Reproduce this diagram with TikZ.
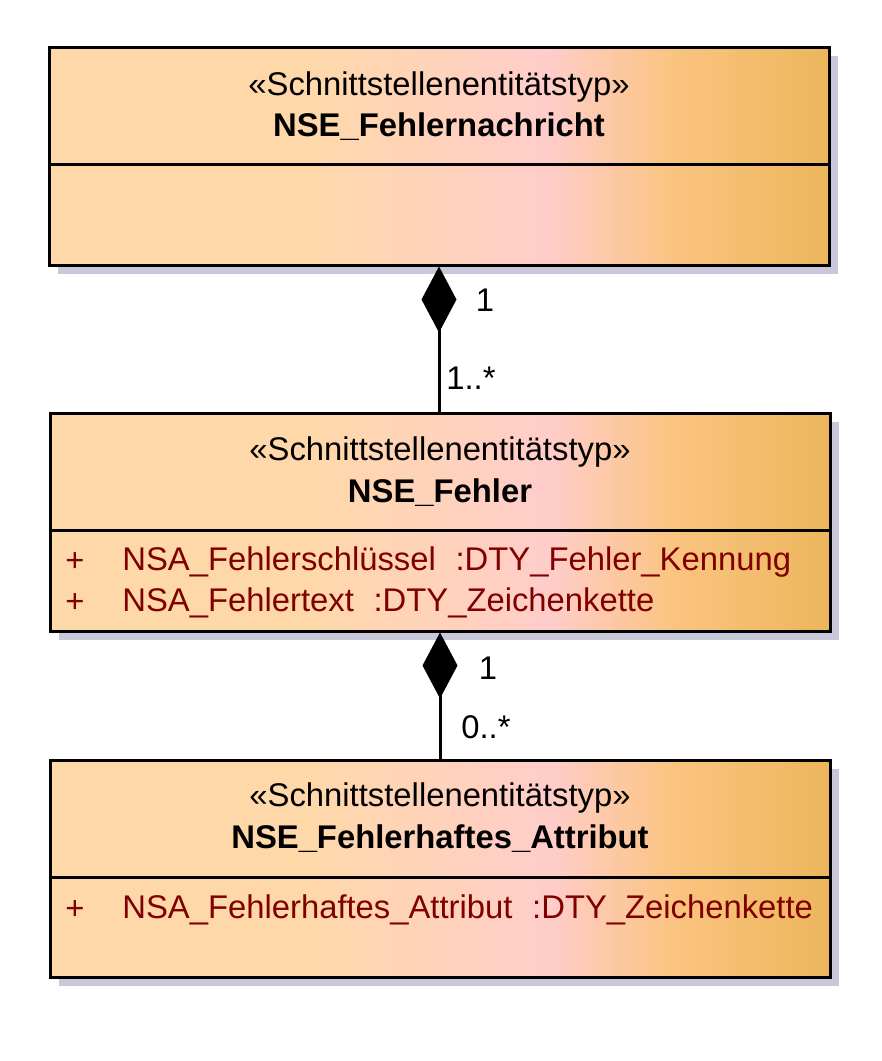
\documentclass[tikz,border=0pt]{standalone}
\usepackage{fontspec}
\setmainfont{Liberation Sans}
\usepackage{tikz}
\usetikzlibrary{arrows.meta, shadows, positioning}
\definecolor{cpeach}{RGB}{255,216,170}
\definecolor{cpink}{RGB}{255,205,202}
\definecolor{corange}{RGB}{250,196,128}
\definecolor{cgold}{RGB}{236,182,92}
\definecolor{cshadow}{RGB}{200,200,216}
\definecolor{cattr}{RGB}{128,0,0}
\pgfdeclarehorizontalshading{umlgrad}{100bp}{color(0bp)=(cpeach); color(25bp)=(cpeach);
  color(42bp)=(cpeach); color(57bp)=(cpink); color(65bp)=(corange); color(75bp)=(cgold);
  color(100bp)=(cgold)}

\begin{document}
\begin{tikzpicture}[
    x=0.5pt, y=-0.5pt,
    umlclass/.style={
      rectangle, draw=black, line width=1.5pt,
      shading=umlgrad, shading angle=0,
      minimum width=390pt, minimum height=#1,
      inner sep=0pt,
      drop shadow={shadow xshift=4.5pt, shadow yshift=-4.5pt,
                   fill=cshadow, opacity=1, draw=none}
    },
    sepline/.style={draw=black, line width=1.5pt},
    stereo/.style={font=\fontsize{16.4}{19}\selectfont, inner sep=0pt},
    clsname/.style={font=\fontsize{16.4}{19}\selectfont\bfseries, inner sep=0pt},
    attr/.style={font=\fontsize{16.4}{19}\selectfont, text=cattr, inner sep=0pt},
    mult/.style={font=\fontsize{16.4}{19}\selectfont, inner sep=0pt},
    comp/.style={draw=black, line width=1.5pt,
      -{Diamond[length=33pt, width=17.5pt]}}
  ]
  \useasboundingbox (0,0) rectangle (882,1061);

  % ---- Class boxes ----
  \node[umlclass=109pt] (NACHRICHT) at (439,156)   {};
  \node[umlclass=109pt] (FEHLER)    at (440,522)   {};
  \node[umlclass=108.5pt] (ATTRIBUT)  at (440,868.5) {};

  % ---- Compartment lines ----
  \draw[sepline] (NACHRICHT.west |- 0,164) -- (NACHRICHT.east |- 0,164);
  \draw[sepline] (FEHLER.west |- 0,530)    -- (FEHLER.east |- 0,530);
  \draw[sepline] (ATTRIBUT.west |- 0,877)  -- (ATTRIBUT.east |- 0,877);

  % ---- NSE_Fehlernachricht ----
  \node[stereo]  (n1) at (439,87)  {«Schnittstellenentitätstyp»};
  \node[clsname] (n2) at (439,127) {NSE\_Fehlernachricht};

  % ---- NSE_Fehler ----
  \node[stereo]  (f1) at (440,452) {«Schnittstellenentitätstyp»};
  \node[clsname] (f2) at (440,493) {NSE\_Fehler};
  \node[attr]    (fp1) at (75,562) {+};
  \node[attr, anchor=west] (fa1) at (122,562)
    {NSA\_Fehlerschlüssel\hspace{0.6em}:DTY\_Fehler\_Kennung};
  \node[attr]    (fp2) at (75,603) {+};
  \node[attr, anchor=west] (fa2) at (122,603)
    {NSA\_Fehlertext\hspace{0.6em}:DTY\_Zeichenkette};

  % ---- NSE_Fehlerhaftes_Attribut ----
  \node[stereo]  (a1) at (440,798) {«Schnittstellenentitätstyp»};
  \node[clsname] (a2) at (440,839) {NSE\_Fehlerhaftes\_Attribut};
  \node[attr]    (ap1) at (75,910) {+};
  \node[attr, anchor=west] (aa1) at (122,910)
    {NSA\_Fehlerhaftes\_Attribut\hspace{0.6em}:DTY\_Zeichenkette};

  % ---- Compositions ----
  \draw[comp] (FEHLER.north -| NACHRICHT.south) -- (NACHRICHT.south);
  \draw[comp] (ATTRIBUT.north) -- (FEHLER.south);

  % ---- Multiplicities ----
  \node[mult] (m1) at (485,300) {1};
  \node[mult] (m2) at (471,378) {1..*};
  \node[mult] (m3) at (488,668) {1};
  \node[mult] (m4) at (486,727) {0..*};

\end{tikzpicture}
\end{document}
